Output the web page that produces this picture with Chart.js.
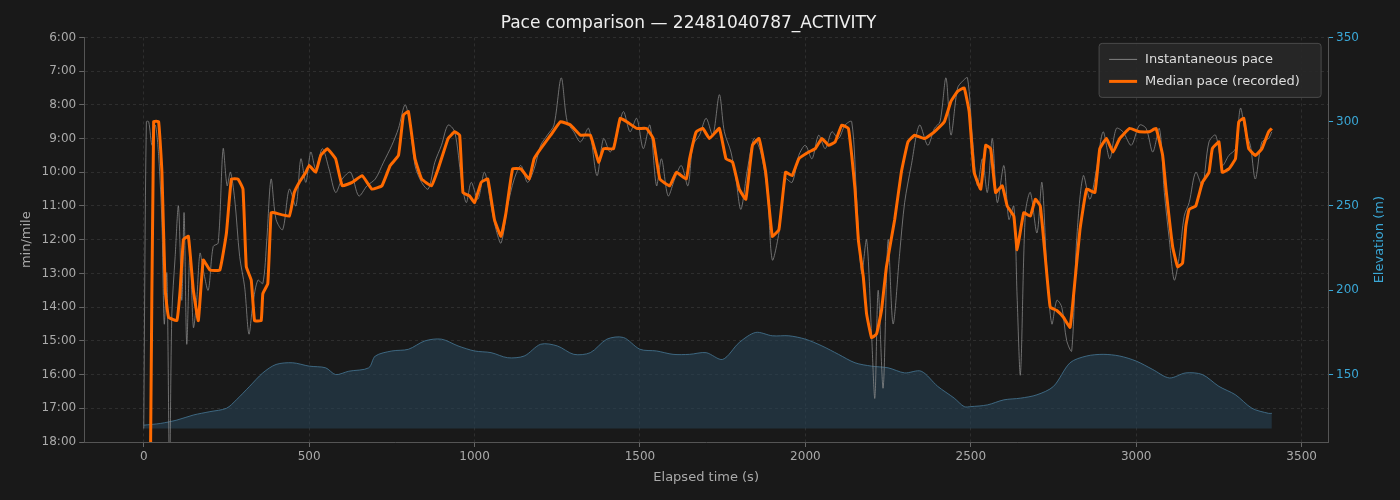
<!DOCTYPE html>
<html><head><meta charset="utf-8">
<script src="https://cdn.jsdelivr.net/npm/chart.js@4"></script>
<style>html,body{margin:0;background:#191919}#w{width:1400px;height:500px}</style>
</head><body><div id="w"><canvas id="c"></canvas></div>
<script>
const medianTimes = [20,30,45,55,65,75,100,110,120,135,150,165,180,200,230,250,265,285,300,310,325,335,355,360,375,385,395,440,455,470,490,500,520,535,555,580,600,630,660,690,720,745,770,785,800,820,840,870,890,920,940,955,965,985,1000,1020,1040,1060,1080,1095,1115,1140,1165,1180,1200,1230,1260,1290,1320,1350,1375,1390,1420,1440,1460,1490,1520,1540,1560,1590,1610,1640,1650,1670,1690,1710,1740,1760,1780,1800,1820,1840,1860,1880,1900,1920,1940,1960,1980,2010,2030,2050,2070,2090,2110,2130,2140,2150,2160,2175,2185,2200,2215,2230,2245,2270,2290,2310,2330,2360,2390,2420,2440,2460,2480,2495,2510,2530,2545,2560,2575,2595,2610,2630,2640,2660,2680,2695,2710,2725,2740,2760,2780,2800,2815,2830,2850,2875,2890,2910,2930,2950,2980,3010,3040,3060,3080,3090,3110,3125,3140,3150,3160,3180,3200,3220,3230,3250,3260,3280,3300,3310,3325,3340,3360,3380,3400,3410];
const medianPace = [19,8.5,8.5,10,13.5,14.3,14.4,13.5,12.0,11.9,13.5,14.4,12.6,12.9,12.9,11.8,10.2,10.2,10.5,12.8,13.2,14.4,14.4,13.6,13.3,11.2,11.2,11.3,10.6,10.3,10.0,9.8,10.0,9.5,9.3,9.6,10.4,10.3,10.1,10.5,10.4,9.8,9.5,8.3,8.2,9.6,10.2,10.4,9.9,9.0,8.8,8.9,10.6,10.7,10.9,10.3,10.2,11.4,11.9,11.2,9.9,9.9,10.2,9.6,9.3,8.9,8.5,8.6,8.9,8.9,9.7,9.3,9.3,8.4,8.5,8.7,8.7,9.0,10.2,10.4,10.0,10.2,9.6,8.8,8.7,9.0,8.7,9.6,9.7,10.5,10.8,9.2,9.0,10.0,11.9,11.7,10.0,10.1,9.6,9.4,9.3,9.0,9.2,9.1,8.6,8.7,9.5,10.5,12.0,13.1,14.2,14.9,14.8,14.1,12.8,11.4,10.0,9.1,8.9,9.0,8.8,8.5,7.9,7.6,7.5,8.2,10.0,10.5,9.2,9.3,10.6,10.4,11.0,11.3,12.3,11.2,11.3,10.8,11.0,12.5,14.0,14.1,14.3,14.6,13.2,11.7,10.5,10.6,9.3,9.0,9.4,9.0,8.7,8.8,8.8,8.7,9.5,10.5,12.2,12.8,12.7,11.6,11.1,11.0,10.3,10.0,9.3,9.1,10.0,9.9,9.6,8.5,8.4,9.3,9.5,9.3,8.8,8.7];

const rawTimes = [0,8,15,25,35,45,55,62,70,78,85,95,105,115,122,130,140,150,160,170,180,195,210,225,240,252,262,275,290,305,318,330,345,360,372,385,400,420,440,460,475,490,505,520,540,560,580,600,625,650,675,700,725,750,770,790,805,820,840,860,880,900,920,940,960,975,990,1010,1030,1050,1065,1080,1100,1120,1140,1160,1180,1200,1220,1240,1262,1280,1300,1320,1345,1370,1390,1410,1430,1450,1470,1490,1510,1530,1550,1565,1585,1605,1625,1645,1660,1680,1700,1720,1740,1755,1775,1790,1805,1825,1845,1865,1885,1900,1920,1940,1960,1980,2000,2020,2040,2060,2080,2100,2120,2140,2155,2170,2185,2200,2210,2220,2235,2250,2265,2285,2300,2320,2345,2370,2390,2407,2425,2440,2460,2475,2490,2505,2520,2535,2550,2565,2580,2600,2615,2630,2640,2650,2665,2680,2700,2715,2730,2745,2760,2775,2790,2805,2820,2840,2860,2880,2900,2920,2940,2960,2985,3010,3030,3050,3070,3085,3100,3115,3130,3145,3160,3180,3200,3220,3240,3260,3280,3300,3315,3330,3345,3360,3380,3400,3410];
const rawPace = [17.6,8.5,8.5,9.2,8.6,9.5,11.5,14.5,13.0,19,14.2,12.5,11.0,13.8,11.2,15.1,12.3,14.6,13.8,12.4,12.9,13.5,12.2,12.1,9.3,10.4,10.0,10.8,12.5,13.4,14.8,13.9,13.2,13.3,12.0,10.2,11.4,11.7,10.5,11.0,9.6,10.3,9.4,9.9,9.3,9.9,10.6,10.2,10.0,10.7,10.4,10.2,9.7,9.2,8.7,8.0,8.6,9.8,10.3,10.5,9.7,9.2,8.6,8.8,10.2,10.9,10.3,10.8,10.0,11.0,11.7,12.1,11.0,10.2,9.8,10.3,9.9,9.2,8.9,8.6,7.2,8.5,8.8,9.1,8.7,10.1,9.0,9.4,8.9,8.2,8.8,8.4,9.3,8.6,10.4,9.6,10.7,10.2,9.8,10.4,9.2,8.9,8.4,8.9,7.7,8.8,9.4,10.2,11.1,9.9,9.0,9.4,10.6,12.6,11.8,10.2,10.3,9.5,9.2,9.6,8.9,9.3,8.8,9.0,8.6,8.5,10.8,13.0,12.0,14.8,16.7,13.5,16.4,12.0,14.5,12.4,10.9,9.8,8.6,9.2,8.7,8.5,7.2,8.9,7.5,7.3,7.2,9.0,10.4,9.6,10.6,9.0,10.9,9.8,11.4,11.0,13.7,16.0,11.2,10.6,11.8,10.3,12.9,14.5,13.8,14.0,15.0,15.3,12.0,10.1,10.8,9.9,8.8,9.6,8.7,8.8,9.2,8.6,8.7,9.4,8.7,10.6,12.0,13.2,12.5,11.3,10.9,10.0,10.4,9.1,8.9,9.8,9.5,9.3,8.1,8.8,9.2,10.2,9.1,9.0,8.8];

const elevTimes = [0,50,100,150,200,250,280,320,360,400,450,500,550,580,620,680,700,750,800,850,900,950,1000,1050,1100,1150,1200,1250,1300,1350,1400,1450,1500,1550,1600,1650,1700,1750,1800,1850,1900,1950,2000,2050,2100,2150,2200,2250,2300,2350,2400,2450,2480,2500,2550,2600,2650,2700,2750,2800,2850,2900,2950,3000,3050,3100,3150,3200,3250,3300,3350,3400,3410];
const elevation = [120,121,123,126,128,130,135,143,151,156,157,155,154,150,152,154,161,164,165,170,171,167,164,163,160,161,168,167,162,163,171,172,165,164,162,162,163,159,169,175,173,173,171,167,162,157,155,154,151,152,143,136,131,131,132,135,136,138,143,157,161,162,161,158,153,148,151,150,143,138,130,127,127];

const xy = (t, v) => t.map((x, i) => ({x, y: v[i]}));
const fmtPace = v => { const m = Math.floor(v); const s = Math.round((v - m) * 60); return m + ':' + String(s).padStart(2, '0'); };
const FONT = 'DejaVu Sans';

// legend box + rotated right title, drawn by hand
const extras = {
  id: 'extras',
  afterDraw(chart) {
    const c = chart.ctx, a = chart.chartArea;
    c.save();
    const w = 222, h = 54, x0 = a.right - w - 7, y0 = a.top + 6;
    c.fillStyle = 'rgba(40,40,40,0.9)'; c.strokeStyle = '#4a4a4a';
    c.beginPath(); c.roundRect(x0, y0, w, h, 3); c.fill(); c.stroke();
    c.font = '13px ' + FONT; c.fillStyle = '#ddd'; c.textBaseline = 'middle';
    c.strokeStyle = 'rgba(140,140,140,0.9)'; c.lineWidth = 1;
    c.beginPath(); c.moveTo(x0 + 10, y0 + 16); c.lineTo(x0 + 38, y0 + 16); c.stroke();
    c.fillText('Instantaneous pace', x0 + 46, y0 + 16);
    c.strokeStyle = '#ff6a00'; c.lineWidth = 3;
    c.beginPath(); c.moveTo(x0 + 10, y0 + 38); c.lineTo(x0 + 38, y0 + 38); c.stroke();
    c.fillText('Median pace (recorded)', x0 + 46, y0 + 38);
    c.translate(1380, (a.top + a.bottom) / 2); c.rotate(-Math.PI / 2);
    c.textAlign = 'center'; c.fillStyle = '#3aa7d6';
    c.fillText('Elevation (m)', 0, 0);
    c.restore();
  }
};

const gridCol = '#2e2e2e';
new Chart(document.getElementById('c'), {
  type: 'line',
  data: {
    datasets: [
      { label: 'Instantaneous pace', data: xy(rawTimes, rawPace), yAxisID: 'y', borderColor: 'rgba(140,140,140,0.75)', borderWidth: 1, pointRadius: 0, tension: 0.3, order: 2 },
      { label: 'Median pace (recorded)', data: xy(medianTimes, medianPace), yAxisID: 'y', borderColor: '#ff6a00', borderWidth: 3, pointRadius: 0, tension: 0.1, order: 1 },
      { label: 'Elevation', data: xy(elevTimes, elevation), yAxisID: 'y2', borderColor: 'rgba(70,120,150,0.8)', borderWidth: 1, backgroundColor: 'rgba(40,70,90,0.55)', fill: {value: 118}, pointRadius: 0, tension: 0.3, order: 3 }
    ]
  },
  options: {
    responsive: true, maintainAspectRatio: false, animation: false,
    layout: { padding: { left: 15, right: 38, top: 0, bottom: 11 } },
    plugins: {
      title: { display: true, text: 'Pace comparison — 22481040787_ACTIVITY', color: '#eee', font: { family: FONT, size: 17, weight: 'normal' }, padding: { top: 13, bottom: 4 } },
      legend: { display: false },
      tooltip: { enabled: false }
    },
    scales: {
      x: {
        type: 'linear', min: -180, max: 3580,
        afterBuildTicks: a => { a.ticks = [0,500,1000,1500,2000,2500,3000,3500].map(value => ({value})); },
        title: { display: true, text: 'Elapsed time (s)', color: '#aaa', font: { family: FONT, size: 13 }, padding: { top: 2 } },
        ticks: { color: '#aaa', font: { family: FONT, size: 12 }, callback: v => String(v) },
        grid: { color: gridCol, tickColor: '#666', tickLength: 5 },
        border: { color: '#555', dash: [3, 3] }
      },
      y: {
        reverse: true, min: 6, max: 18,
        afterBuildTicks: a => { a.ticks = [6,7,8,9,10,11,12,13,14,15,16,17,18].map(value => ({value})); },
        title: { display: true, text: 'min/mile', color: '#aaa', font: { family: FONT, size: 13 } },
        ticks: { color: '#aaa', font: { family: FONT, size: 12 }, callback: v => fmtPace(v) },
        grid: { color: gridCol, tickColor: '#666', tickLength: 5 },
        border: { color: '#555', dash: [3, 3] }
      },
      y2: {
        position: 'right', min: 110, max: 350,
        afterBuildTicks: a => { a.ticks = [150,200,250,300,350].map(value => ({value})); },
        ticks: { color: '#3aa7d6', font: { family: FONT, size: 12 } },
        grid: { drawOnChartArea: false, tickColor: '#3aa7d6', tickLength: 5 },
        border: { color: '#555' }
      }
    }
  },
  plugins: [extras]
});
</script></body></html>
